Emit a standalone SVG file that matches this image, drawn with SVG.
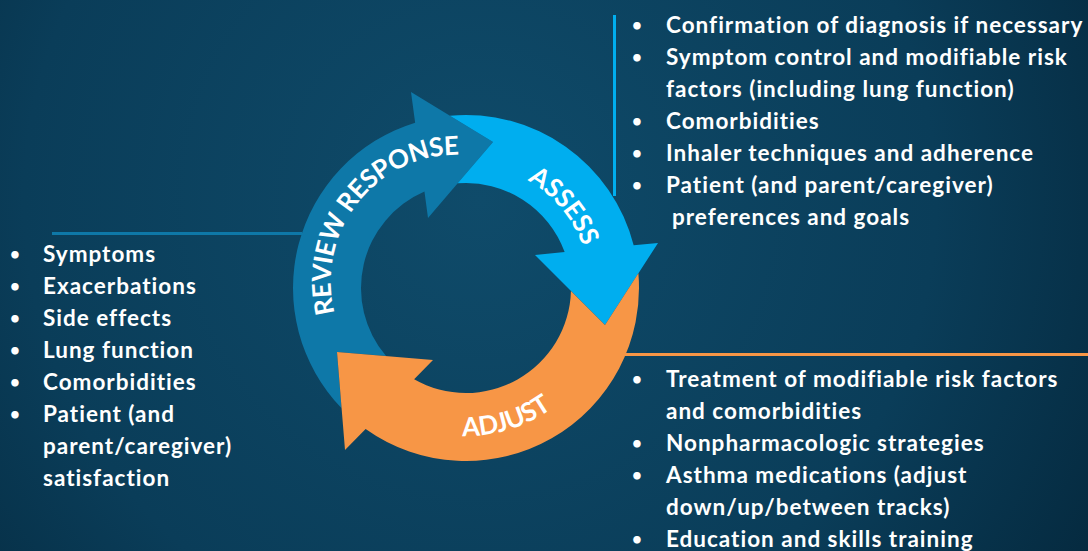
<svg xmlns="http://www.w3.org/2000/svg" width="1088" height="551" viewBox="0 0 1088 551">
  <defs>
    <radialGradient id="bg" cx="480" cy="200" r="760" gradientUnits="userSpaceOnUse">
      <stop offset="0" stop-color="#0f4b6a"/>
      <stop offset="0.6" stop-color="#0a3d59"/>
      <stop offset="1" stop-color="#04263a"/>
    </radialGradient>
    <!-- label baselines around the cycle, centre (466,288) -->
    <path id="arcReview" d="M 379.4 380.9 A 125 125 0 0 1 535.2 181.5"/>
    <path id="arcAssess" d="M 466 164 A 124 124 0 0 1 588.1 309.5"/>
    <path id="arcAdjust" d="M 385.4 412.1 A 148 148 0 0 0 602.2 345.8"/>
  </defs>
  <style>
    .list { font-family: Lato, "Open Sans", sans-serif; font-weight: bold; font-size: 22.5px; fill: #ffffff; letter-spacing: 1px; }
    .dot { font-family: Lato, "Open Sans", sans-serif; font-weight: bold; font-size: 17px; fill: #ffffff; }
    .label { font-family: Lato, "Open Sans", sans-serif; font-weight: bold; font-size: 26px; fill: #ffffff; letter-spacing: -0.4px; }
    .rule { fill: none; stroke-width: 3; }
  </style>

  <rect width="1088" height="551" fill="url(#bg)"/>

  <!-- leader lines from the cycle to each list -->
  <g id="connectors">
    <line class="rule" x1="614.5" y1="15" x2="614.5" y2="196" stroke="#00aeef"/>
    <line class="rule" x1="52" y1="233.5" x2="302" y2="233.5" stroke="#0e78a8"/>
    <line class="rule" x1="620" y1="354.5" x2="1088" y2="354.5" stroke="#f79646"/>
  </g>

  <!-- cycle arrows -->
  <g id="review-response">
    <path fill="#0e78a8" d="M 341.59 408.21 A 173 173 0 0 1 415.13 122.65 L 411 92 L 493 142 L 428 218 L 424.44 191.58 A 105 105 0 0 0 386.07 356.09 L 337 352 Z"/>
    <text class="label"><textPath href="#arcReview" startOffset="50%" text-anchor="middle">REVIEW RESPONSE</textPath></text>
  </g>
  <g id="assess">
    <path fill="#00aeef" d="M 449.9 115.75 A 173 173 0 0 1 633.67 245.37 L 658 243 L 605 325 L 535 255 L 564.67 252.1 A 105 105 0 0 0 457.65 183.33 L 493 142 Z"/>
    <text class="label"><textPath href="#arcAssess" startOffset="50%" text-anchor="middle">ASSESS</textPath></text>
  </g>
  <g id="adjust">
    <path fill="#f79646" d="M 638.38 273.36 A 173 173 0 0 1 365.63 428.9 L 345 450 L 337 352 L 433 360 L 414.13 379.3 A 105 105 0 0 0 570.96 290.96 L 605 325 Z"/>
    <text class="label"><textPath href="#arcAdjust" startOffset="50%" text-anchor="middle">ADJUST</textPath></text>
  </g>

  <!-- assess list -->
  <g id="assess-list">
    <text class="dot" x="632" y="31">•</text><text class="list" x="666" y="33">Confirmation of diagnosis if necessary</text>
    <text class="dot" x="632" y="63">•</text><text class="list" x="666" y="65">Symptom control and modifiable risk</text>
    <text class="list" x="666" y="97">factors (including lung function)</text>
    <text class="dot" x="632" y="127">•</text><text class="list" x="666" y="129">Comorbidities</text>
    <text class="dot" x="632" y="159">•</text><text class="list" x="666" y="161">Inhaler techniques and adherence</text>
    <text class="dot" x="632" y="191">•</text><text class="list" x="666" y="193">Patient (and parent/caregiver)</text>
    <text class="list" x="672" y="225">preferences and goals</text>
  </g>

  <!-- review list -->
  <g id="review-list">
    <text class="dot" x="10" y="260">•</text><text class="list" x="43" y="262">Symptoms</text>
    <text class="dot" x="10" y="292">•</text><text class="list" x="43" y="294">Exacerbations</text>
    <text class="dot" x="10" y="324">•</text><text class="list" x="43" y="326">Side effects</text>
    <text class="dot" x="10" y="356">•</text><text class="list" x="43" y="358">Lung function</text>
    <text class="dot" x="10" y="388">•</text><text class="list" x="43" y="390">Comorbidities</text>
    <text class="dot" x="10" y="420">•</text><text class="list" x="43" y="422">Patient (and</text>
    <text class="list" x="43" y="454">parent/caregiver)</text>
    <text class="list" x="43" y="486">satisfaction</text>
  </g>

  <!-- adjust list -->
  <g id="adjust-list">
    <text class="dot" x="632" y="385">•</text><text class="list" x="666" y="387">Treatment of modifiable risk factors</text>
    <text class="list" x="666" y="419">and comorbidities</text>
    <text class="dot" x="632" y="449">•</text><text class="list" x="666" y="451">Nonpharmacologic strategies</text>
    <text class="dot" x="632" y="481">•</text><text class="list" x="666" y="483">Asthma medications (adjust</text>
    <text class="list" x="666" y="515">down/up/between tracks)</text>
    <text class="dot" x="632" y="545">•</text><text class="list" x="666" y="547">Education and skills training</text>
  </g>
</svg>
